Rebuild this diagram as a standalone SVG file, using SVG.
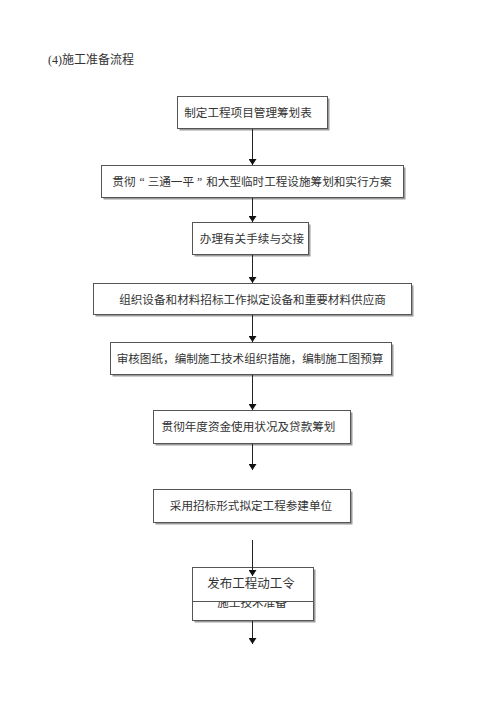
<svg xmlns="http://www.w3.org/2000/svg" width="500" height="707" viewBox="0 0 500 707">
<style>
text{font-family:"Liberation Serif","Noto Sans CJK SC",serif;fill:#333;font-size:11.6px;text-anchor:middle;}
.sh{fill:#9a9a9a;}
.bx{fill:#fff;stroke:#555;stroke-width:1;}
.ln{stroke:#222;stroke-width:1;fill:none;marker-end:url(#ah);}
</style>
<defs>
<marker id="ah" viewBox="0 0 6 8" refX="6" refY="4" markerWidth="6" markerHeight="8" orient="auto" markerUnits="userSpaceOnUse">
<path d="M0,0 L6,4 L0,8 z" fill="#111"/>
</marker>
</defs>
<rect width="500" height="707" fill="#fff"/>
<text x="48" y="64" style="text-anchor:start;font-size:12px">(4)施工准备流程</text>

<g id="n1">
<rect class="sh" x="179.5" y="98.5" width="150" height="32"/>
<rect class="bx" x="177.5" y="96.5" width="150" height="32"/>
<text x="248" y="117">制定工程项目管理筹划表</text>
</g>
<g id="n2">
<rect class="sh" x="103.5" y="167.5" width="302" height="32"/>
<rect class="bx" x="101.5" y="165.5" width="302" height="32"/>
<text x="252" y="186">贯彻<tspan dx="4">“</tspan><tspan dx="3">三通一平</tspan><tspan dx="3">”</tspan><tspan dx="4">和大型临时工程设施筹划和实行方案</tspan></text>
</g>
<g id="n3">
<rect class="sh" x="194.5" y="224.5" width="116" height="32"/>
<rect class="bx" x="192.5" y="222.5" width="116" height="32"/>
<text x="252" y="243">办理有关手续与交接</text>
</g>
<g id="n4">
<rect class="sh" x="95.5" y="285.5" width="318" height="31"/>
<rect class="bx" x="93.5" y="283.5" width="318" height="31"/>
<text x="252.5" y="303.5">组织设备和材料招标工作拟定设备和重要材料供应商</text>
</g>
<g id="n5">
<rect class="sh" x="112.5" y="344.5" width="281" height="32"/>
<rect class="bx" x="110.5" y="342.5" width="281" height="32"/>
<text x="250" y="363">审核图纸，编制施工技术组织措施，编制施工图预算</text>
</g>
<g id="n6">
<rect class="sh" x="155.5" y="412.5" width="197" height="33"/>
<rect class="bx" x="153.5" y="410.5" width="197" height="33"/>
<text x="248.5" y="431">贯彻年度资金使用状况及贷款筹划</text>
</g>
<g id="n7">
<rect class="sh" x="155.5" y="491.5" width="197" height="33"/>
<rect class="bx" x="153.5" y="489.5" width="197" height="33"/>
<text x="251" y="510">采用招标形式拟定工程参建单位</text>
</g>
<g id="n8">
<rect class="sh" x="194.5" y="569.5" width="121" height="53"/>
<rect class="bx" x="192.5" y="567.5" width="121" height="53"/>
<text x="252" y="607">施工技术准备</text>
<rect class="bx" x="192.5" y="567.5" width="121" height="34"/>
<text x="251" y="588" style="font-size:12.5px">发布工程动工令</text>
</g>

<g id="connectors">
<line class="ln" x1="252.5" y1="129" x2="252.5" y2="165"/>
<line class="ln" x1="252.5" y1="198" x2="252.5" y2="222"/>
<line class="ln" x1="252.5" y1="255" x2="252.5" y2="283"/>
<line class="ln" x1="252.5" y1="315" x2="252.5" y2="342"/>
<line class="ln" x1="252.5" y1="375" x2="252.5" y2="410"/>
<line class="ln" x1="252.5" y1="444" x2="252.5" y2="470"/>
<line class="ln" x1="252.5" y1="540" x2="252.5" y2="576"/>
<line class="ln" x1="252.5" y1="621" x2="252.5" y2="644"/>
</g>
</svg>
